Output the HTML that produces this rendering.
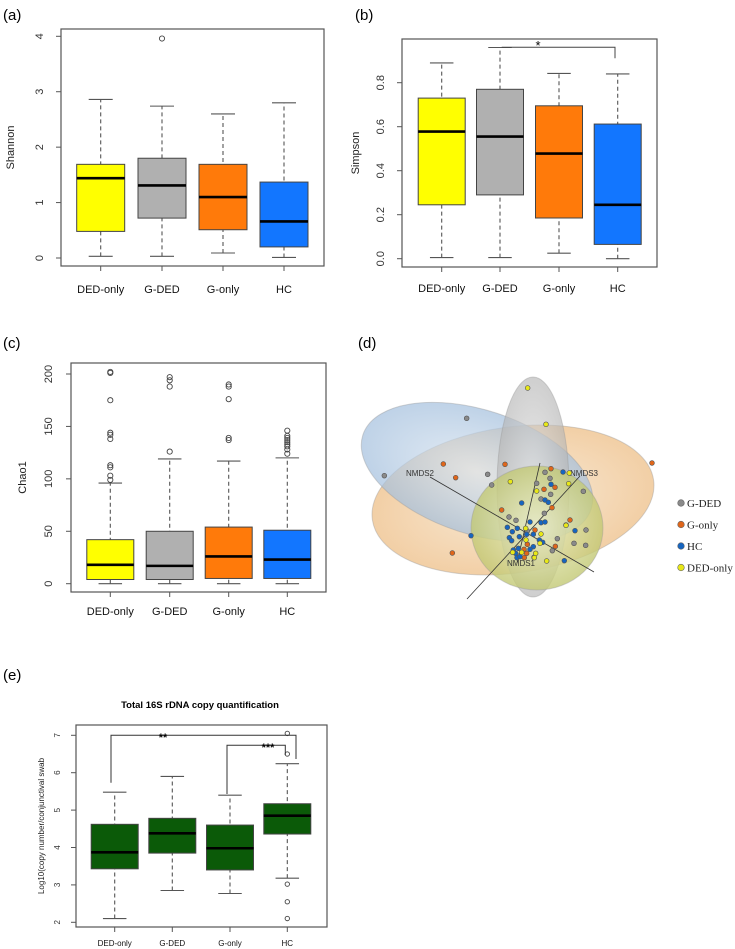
<!DOCTYPE html>
<html><head><meta charset="utf-8"><style>
body{margin:0;background:#fff;}
svg{display:block;font-family:"Liberation Sans",Arial,sans-serif;}
</style></head><body>
<svg id="fig" width="735" height="949" viewBox="0 0 735 949" xmlns="http://www.w3.org/2000/svg">
<text x="3" y="20" font-size="15">(a)</text>
<text x="355" y="20" font-size="15">(b)</text>
<text x="3" y="348" font-size="15">(c)</text>
<text x="358" y="348" font-size="15">(d)</text>
<text x="3" y="680" font-size="15">(e)</text>
<g id="pa"></g>
<g id="pb"></g>
<g id="pc"></g>
<g id="pd"></g>
<g id="pe"></g>
</svg>
<script>
const groups = ["DED-only","G-DED","G-only","HC"];
const fills = ["#ffff00","#b0b0b0","#ff7a0a","#1276ff"];
// five-number summaries [min, q1, median, q3, max]
const shannonStats = [[0.03,0.48,1.44,1.69,2.86],[0.03,0.72,1.31,1.80,2.74],[0.09,0.51,1.10,1.69,2.60],[0.01,0.20,0.66,1.37,2.80]];
const shannonOut = [[],[3.96],[],[]];
const shannonTicks = [0,1,2,3,4];
const simpsonStats = [[0.005,0.245,0.578,0.73,0.89],[0.005,0.29,0.555,0.77,0.96],[0.025,0.185,0.478,0.695,0.842],[0.0,0.065,0.245,0.612,0.84]];
const simpsonOut = [[],[],[],[]];
const simpsonTicks = ["0.0","0.2","0.4","0.6","0.8"];
const chaoStats = [[0,4,18,42,96],[0,4,17,50,119],[0,5,26,54,117],[0,5,23,51,120]];
const chaoOut = [[202,201,175,144,142,138,113,111,103,99],[126,188,194,197],[137,139,176,188,190],[124,128,131,133,135,137,139,141,146]];
const chaoTicks = [0,50,100,150,200];
const copyStats = [[2.1,3.43,3.87,4.62,5.48],[2.85,3.85,4.38,4.78,5.9],[2.77,3.4,3.98,4.6,5.4],[3.18,4.36,4.85,5.17,6.24]];
const copyOut = [[],[],[],[7.05,6.5,3.02,2.55,2.1]];
const copyTicks = [2,3,4,5,6,7];
// NMDS points: [x, y] in projected plot units
const ptsGDED = [[290,355],[43,527],[353,523],[365,555],[525,517],[540,535],[500,550],[542,583],[513,597],[523,640],[640,574],[417,651],[438,661],[472,693],[562,716],[612,730],[648,690],[647,736],[547,752],[492,772]];
const ptsGonly = [[220,492],[257,533],[405,493],[543,506],[846,489],[555,562],[522,568],[395,630],[546,623],[600,660],[495,690],[247,759],[556,739],[472,733],[462,748],[470,760],[463,773]];
const ptsHC = [[579,516],[543,553],[455,609],[525,600],[535,607],[303,707],[412,682],[427,695],[442,685],[480,666],[513,668],[525,666],[470,703],[490,703],[418,713],[425,722],[448,710],[508,720],[518,727],[615,692],[588,675],[490,740],[445,745],[437,760],[441,773],[450,770],[480,748],[583,782],[430,750]];
const ptsDED = [[473,264],[528,373],[421,545],[598,519],[596,551],[500,573],[467,685],[513,702],[588,676],[510,730],[468,720],[493,773],[530,783],[428,757],[455,757],[497,760]];

const NS="http://www.w3.org/2000/svg";
function mk(parent,tag,attrs,text){const e=document.createElementNS(NS,tag);for(const k in attrs)e.setAttribute(k,attrs[k]);if(text!==undefined)e.textContent=text;parent.appendChild(e);return e;}

function boxPanel(g,cfg){
  const {x0,x1,y0,y1,vmin,vmax,ymin,ymax,centers,bw,stats,outs,ticks,colors,ylab,ylabX,tickX,labY,fs,tfs,ylfs,orad}=cfg;
  const ys=v=>ymin+(v-vmin)/(vmax-vmin)*(ymax-ymin);
  const fr=mk(g,'rect',{x:x0,y:y0,width:x1-x0,height:y1-y0,fill:'none',stroke:'#555','stroke-width':1.2});
  
  
  ticks.forEach(t=>{const v=parseFloat(t);const y=ys(v);
    const l=mk(g,'line',{x1:x0,x2:x0-5,y1:y,y2:y,stroke:'#555'});
    
    
    const tx=mk(g,'text',{x:tickX,y:y,'font-size':tfs,'text-anchor':'middle',fill:'#333',transform:`rotate(-90 ${tickX} ${y})`},String(t));
    
    
  });
  const yl=mk(g,'text',{x:ylabX,y:(y0+y1)/2,'font-size':ylfs,'text-anchor':'middle',fill:'#222',transform:`rotate(-90 ${ylabX} ${(y0+y1)/2})`},ylab);
  
  
  stats.forEach((s,i)=>{const cx=centers[i];
    const xt=mk(g,'line',{x1:cx,x2:cx,y1:y1,y2:y1+5,stroke:'#555'});
    
    
    const lb=mk(g,'text',{x:cx,y:labY,'font-size':fs,'text-anchor':'middle',fill:'#111'},groups[i]);
    
    
    const wl=mk(g,'line',{x1:cx,x2:cx,y1:ys(s[0]),y2:ys(s[4]),stroke:'#555','stroke-dasharray':'4,3','stroke-width':1.1});
    
    
    [s[0],s[4]].forEach(v=>{const c=mk(g,'line',{x1:cx-bw/4,x2:cx+bw/4,y1:ys(v),y2:ys(v),stroke:'#555','stroke-width':1.1});
      
      });
    const r=mk(g,'rect',{x:cx-bw/2,y:ys(s[3]),width:bw,height:ys(s[1])-ys(s[3]),fill:colors[i],stroke:'#444','stroke-width':1});
    
    
    const m=mk(g,'line',{x1:cx-bw/2,x2:cx+bw/2,y1:ys(s[2]),y2:ys(s[2]),stroke:'#000','stroke-width':2.6});
    
    
    outs[i].forEach(v=>{const o=mk(g,'circle',{cx:cx,cy:ys(v),r:orad,fill:'none',stroke:'#444','stroke-width':0.9});
      
      });
  });
  return ys;
}
boxPanel(document.getElementById('pa'),{x0:61,x1:324,y0:29,y1:266,vmin:0,vmax:4,ymin:258,ymax:36.3,centers:[100.7,162,223,284],bw:48,stats:shannonStats,outs:shannonOut,ticks:shannonTicks,colors:fills,ylab:'Shannon',ylabX:14,tickX:43,labY:293,fs:11,tfs:11,ylfs:11,orad:2.6});
boxPanel(document.getElementById('pb'),{x0:402,x1:657,y0:39,y1:267,vmin:0,vmax:0.8,ymin:258.7,ymax:82.7,centers:[441.7,500,559,617.7],bw:47,stats:simpsonStats,outs:simpsonOut,ticks:simpsonTicks,colors:fills,ylab:'Simpson',ylabX:359,tickX:384,labY:292,fs:11,tfs:11,ylfs:11,orad:2.6});
boxPanel(document.getElementById('pc'),{x0:71,x1:326,y0:363,y1:592,vmin:0,vmax:200,ymin:583.7,ymax:374,centers:[110.3,169.7,228.7,287.3],bw:47,stats:chaoStats,outs:chaoOut,ticks:chaoTicks,colors:fills,ylab:'Chao1',ylabX:26,tickX:52,labY:615,fs:11,tfs:11,ylfs:11,orad:2.6});
boxPanel(document.getElementById('pe'),{x0:76,x1:327,y0:725,y1:927,vmin:2,vmax:7,ymin:922.3,ymax:735.3,centers:[114.7,172.3,230,287.3],bw:47,stats:copyStats,outs:copyOut,ticks:copyTicks,colors:['#0b5a08','#0b5a08','#0b5a08','#0b5a08'],ylab:'Log10(copy number/conjunctival swab',ylabX:44,tickX:60,labY:946,fs:8,tfs:8,ylfs:8,orad:2.2});
(function(){const g=document.getElementById('pb');
 const p=mk(g,'polyline',{points:`501.7,47.3 615,47.3 615,58.3`,fill:'none',stroke:'#444','stroke-width':1});
 
 
 const s=mk(g,'text',{x:538,y:50,'font-size':13,'text-anchor':'middle'},'*');
 
 })();
(function(){const g=document.getElementById('pe');
 const t=mk(g,'text',{x:200,y:708,'font-size':9.5,'font-weight':'bold','text-anchor':'middle'},'Total 16S rDNA copy quantification');
 
 
 const b1=mk(g,'polyline',{points:`111,782.7 111,735.3 296,735.3 296,759`,fill:'none',stroke:'#333','stroke-width':1});
 
 
 const b2=mk(g,'polyline',{points:`227,794 227,745.3 285.3,745.3 285.3,755`,fill:'none',stroke:'#333','stroke-width':1});
 
 
 const s1=mk(g,'text',{x:163,y:741,'font-size':11,'font-weight':'bold','text-anchor':'middle'},'**');
 
 
 const s2=mk(g,'text',{x:268,y:751,'font-size':11,'font-weight':'bold','text-anchor':'middle'},'***');
 
 })();
(function(){const g=document.getElementById('pd');
 const px=v=>370+v/3, py=v=>300+v/3;
 const defs=mk(g,'defs',{});
 const grads=[['go','#efc38f','#f6e6cf'],['gb','#a3bfdd','#dbe6f1'],['gg','#b5b5b5','#e3e3e3'],['gy','#c2c873','#ecefc4']];
 grads.forEach(a=>{const rg=mk(defs,'radialGradient',{id:a[0]});mk(rg,'stop',{offset:'0%','stop-color':a[2]});mk(rg,'stop',{offset:'100%','stop-color':a[1]});});
 const ells=[['ellipse-g-only',513,500,142,73,-8,'go',0.8],['ellipse-hc',477,472,120,62,18,'gb',0.7],['ellipse-g-ded',533,487,36,110,0,'gg',0.65],['ellipse-ded-only',537,528,66,62,0,'gy',0.8]];
 ells.forEach(e=>{const el=mk(g,'ellipse',{cx:e[1],cy:e[2],rx:e[3],ry:e[4],transform:`rotate(${e[5]} ${e[1]} ${e[2]})`,fill:`url(#${e[6]})`,'fill-opacity':e[7],stroke:'#999','stroke-opacity':0.4});
   
   });
 [[430,477,594,572],[580,476,467,599],[540,463,517,563]].forEach(l=>{const ln=mk(g,'line',{x1:l[0],y1:l[1],x2:l[2],y2:l[3],stroke:'#333','stroke-width':0.8});
   
   });
 [['NMDS2',406,476],['NMDS3',570,476],['NMDS1',507,566]].forEach(a=>{const t=mk(g,'text',{x:a[1],y:a[2],'font-size':8,fill:'#333'},a[0]);
   
   });
 const sets=[[ptsGDED,'#8a8a8a'],[ptsGonly,'#e0661a'],[ptsHC,'#1665c0'],[ptsDED,'#e8e817']];
 sets.forEach(s=>s[0].forEach(p=>{const c=mk(g,'circle',{cx:px(p[0]),cy:py(p[1]),r:2.4,fill:s[1],stroke:'#555','stroke-width':0.6});
   
   }));
 const leg=[['G-DED','#8a8a8a'],['G-only','#e0661a'],['HC','#1665c0'],['DED-only','#e8e817']];
 leg.forEach((l,i)=>{const y=503+i*21.5;
   const c=mk(g,'circle',{cx:681,cy:y,r:3.3,fill:l[1],stroke:'#666','stroke-width':0.6});
   
   
   const t=mk(g,'text',{x:687,y:y+4,'font-size':11,'font-family':'Liberation Serif, serif',fill:'#222'},l[0]);
   
   });
})();
</script>
</body></html>
